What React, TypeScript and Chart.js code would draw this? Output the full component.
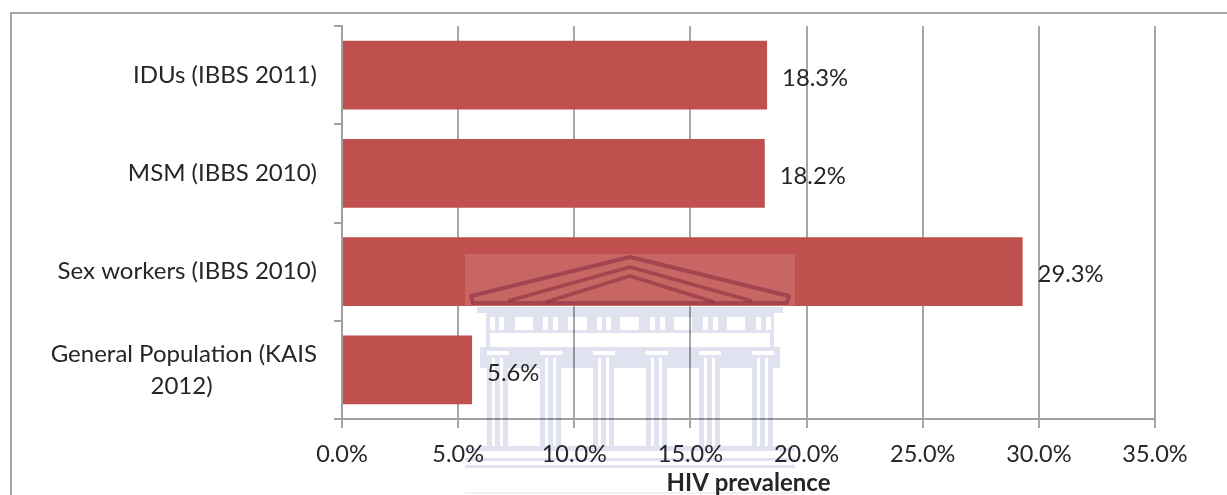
import { useEffect, useRef } from "react";
import { Chart, registerables } from "chart.js";

Chart.register(...registerables);

const categories = [
  "IDUs (IBBS 2011)",
  "MSM (IBBS 2010)",
  "Sex workers (IBBS 2010)",
  ["General Population (KAIS", "2012)"],
];
const prevalence = [18.3, 18.2, 29.3, 5.6];
const axisTitle = "HIV prevalence";
const FONT = "Lato, 'Open Sans', sans-serif";
const INK = "#262626";

const valueLabels = {
  id: "valueLabels",
  afterDatasetsDraw(chart: any) {
    const { ctx } = chart;
    const meta = chart.getDatasetMeta(0);
    ctx.save();
    ctx.font = `23.8px ${FONT}`;
    ctx.fillStyle = INK;
    ctx.textAlign = "left";
    ctx.textBaseline = "middle";
    meta.data.forEach((bar: any, i: number) => {
      ctx.fillText(`${prevalence[i].toFixed(1)}%`, bar.x + 15, bar.y + 3);
    });
    ctx.restore();
  },
};

// Chart object frame: left and top edges are the only ones inside the page.
const frame = {
  id: "frame",
  beforeDraw(chart: any) {
    const { ctx, width, height } = chart;
    ctx.save();
    ctx.strokeStyle = "#a6a6a6";
    ctx.lineWidth = 2;
    ctx.beginPath();
    ctx.moveTo(11, height);
    ctx.lineTo(11, 13);
    ctx.lineTo(width, 13);
    ctx.stroke();
    ctx.restore();
  },
};

// University crest laid over the page as a pale watermark.
const crest = {
  id: "crest",
  afterDraw(chart: any) {
    const { ctx } = chart;
    const row = (y: number, h: number, x0: number, x1: number, gaps: number[][]) => {
      let x = x0;
      gaps.forEach(([gx, gw]) => {
        ctx.fillRect(x, y, gx - x, h);
        x = gx + gw;
      });
      ctx.fillRect(x, y, x1 - x, h);
    };

    ctx.save();
    ctx.fillStyle = "rgba(255,255,255,0.13)";
    ctx.fillRect(465, 254, 330, 52);

    ctx.strokeStyle = "rgba(140,45,65,0.6)";
    ctx.lineJoin = "round";
    ctx.lineWidth = 4;
    ctx.beginPath();
    ctx.moveTo(630, 257);
    ctx.lineTo(789, 296);
    ctx.lineTo(787, 303);
    ctx.lineTo(473, 303);
    ctx.lineTo(471, 296);
    ctx.closePath();
    ctx.stroke();
    ctx.lineWidth = 3.5;
    ctx.beginPath();
    ctx.moveTo(508, 301);
    ctx.lineTo(630, 267);
    ctx.lineTo(752, 301);
    ctx.moveTo(546, 302);
    ctx.lineTo(630, 276);
    ctx.lineTo(714, 302);
    ctx.stroke();

    ctx.globalCompositeOperation = "multiply";
    ctx.fillStyle = "#e0e2f0";
    ctx.fillRect(477, 307, 306, 6);
    ctx.fillRect(486, 313, 288, 4);
    const frieze = [
      [490, 5], [499, 5], [515, 18], [543, 5], [553, 5], [568, 19], [597, 5], [606, 5],
      [620, 19], [650, 5], [660, 5], [674, 18], [703, 5], [713, 5], [727, 18], [756, 5], [766, 5],
    ];
    row(317, 13, 486, 774, frieze);
    ctx.fillRect(486, 330, 288, 3);
    ctx.fillRect(486, 333, 4, 14);
    ctx.fillRect(770, 333, 4, 14);

    const columns = [487, 540, 593, 646, 699, 752];
    const capitals = columns.map((cx) => [cx, 22]);
    const slits = columns.flatMap((cx) => [[cx + 5, 3], [cx + 13, 3]]);
    ctx.fillRect(480, 347, 300, 4);
    row(351, 4, 480, 780, capitals);
    ctx.fillRect(480, 355, 300, 3);
    row(358, 10, 480, 780, slits);
    columns.forEach((cx) => {
      [0, 8, 16].forEach((dx) => ctx.fillRect(cx + dx, 368, 5, 78));
    });
    ctx.fillRect(478, 446, 304, 2);
    ctx.fillRect(465, 448, 330, 3);
    ctx.fillRect(465, 458, 330, 3);
    ctx.fillRect(465, 465, 330, 3);
    ctx.fillStyle = "#f1f1f3";
    ctx.fillRect(465, 492, 330, 2);
    ctx.restore();
  },
};

export default function App() {
  const ref = useRef<HTMLCanvasElement>(null);

  useEffect(() => {
    document.body.style.margin = "0";
    const chart = new Chart(ref.current!, {
      type: "bar",
      data: {
        labels: categories as any,
        datasets: [
          {
            data: prevalence,
            backgroundColor: "#c0504d",
            barPercentage: 0.7,
            categoryPercentage: 1,
          },
        ],
      },
      plugins: [frame, valueLabels, crest],
      options: {
        indexAxis: "y",
        responsive: false,
        animation: false,
        layout: { padding: { top: 26, right: 72, left: 0, bottom: 0 } },
        plugins: { legend: { display: false }, tooltip: { enabled: false } },
        scales: {
          x: {
            min: 0,
            max: 35,
            afterFit: (s: any) => {
              s.height = 76;
            },
            border: { color: "#a0a0a0", width: 2 },
            grid: { color: "#a6a6a6", lineWidth: 2, tickLength: 9, drawTicks: true },
            ticks: {
              stepSize: 5,
              maxRotation: 0,
              padding: 12,
              color: INK,
              font: { family: FONT, size: 23.5 },
              callback: (v: any) => `${Number(v).toFixed(1)}%`,
            },
            title: {
              display: true,
              text: axisTitle,
              color: INK,
              padding: { top: 2, bottom: -3 },
              font: { family: FONT, size: 24, weight: "bold" },
            },
          },
          y: {
            afterFit: (s: any) => {
              s.width = 342;
              s.paddingTop = 0;
              s.paddingBottom = 0;
            },
            border: { color: "#a0a0a0", width: 2 },
            grid: { drawOnChartArea: false, color: "#a0a0a0", lineWidth: 2, tickLength: 8 },
            ticks: {
              padding: 17,
              color: INK,
              autoSkip: false,
              font: { family: FONT, size: 24, lineHeight: 1.33 },
              // Right-aligned by the axis; the trailing spaces centre the short wrapped line.
              callback(this: any, v: any) {
                const label = this.getLabelForValue(v);
                const lines = categories[v];
                return Array.isArray(lines)
                  ? [lines[0], lines[1] + " ".repeat(17)]
                  : label;
              },
            },
          },
        },
      } as any,
    });
    return () => chart.destroy();
  }, []);

  return <canvas ref={ref} width={1227} height={495} style={{ display: "block" }} />;
}
